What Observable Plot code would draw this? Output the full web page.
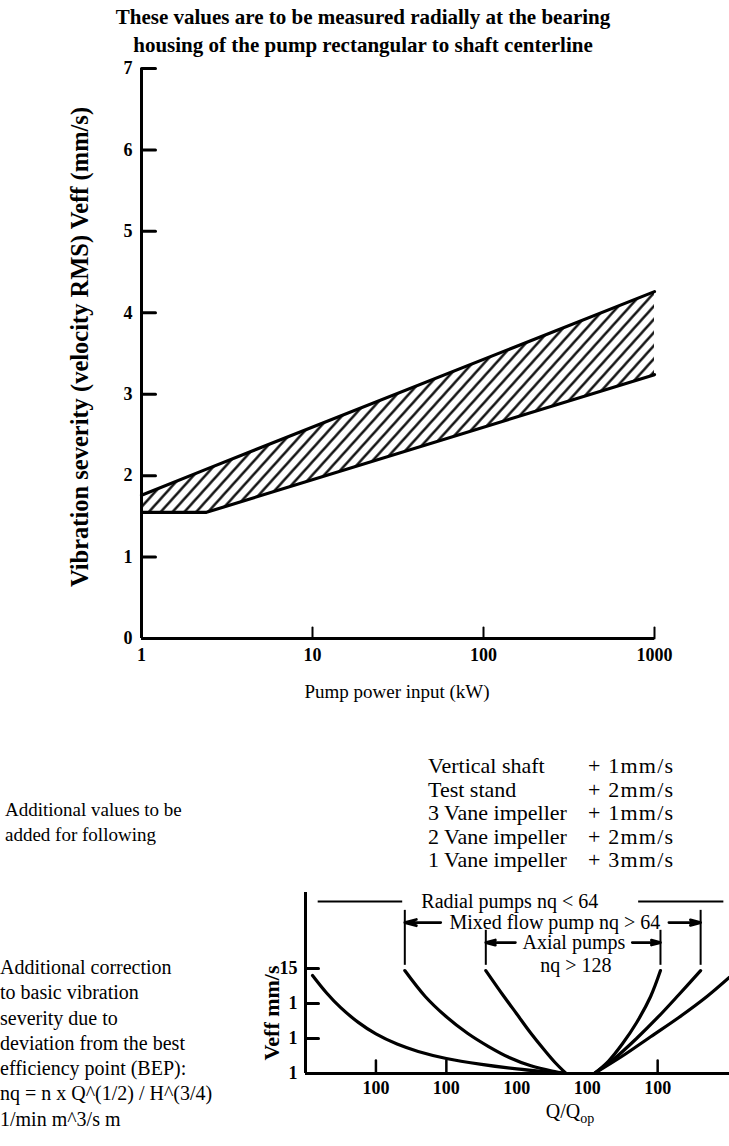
<!DOCTYPE html>
<html><head><meta charset="utf-8">
<script src="https://cdn.jsdelivr.net/npm/d3@7"></script>
<script src="https://cdn.jsdelivr.net/npm/@observablehq/plot@0.6"></script>
<style>
html,body{margin:0;padding:0;background:#fff;}
#root{position:relative;width:729px;height:1146px;overflow:hidden;font-family:"Liberation Serif","Times New Roman",serif;color:#000;background:#fff;}
.t{position:absolute;white-space:nowrap;}
.abs{position:absolute;left:0;}
</style></head><body><div id="root"></div>
<script>
// ---------- data: top chart ----------
const titleLines = ["These values are to be measured radially at the bearing", "housing of the pump rectangular to shaft centerline"];
const yLabelTop = "Vibration severity (velocity RMS) Veff (mm/s)";
const xLabelTop = "Pump power input (kW)";
const yTicksTop = [0, 1, 2, 3, 4, 5, 6, 7];
const yTickLabelsTop = ["0", "1", "2", "3", "4", "5", "6", "7"];
const xTicksTop = [1, 10, 100, 1000];
const xTickLabelsTop = ["1", "10", "100", "1000"];
const xTickMarksTop = [10, 100, 1000];
const bandPower = [1, 2.4, 1000];
const bandUpper = [1.76, 2.08, 4.26];
const bandLower = [1.55, 1.55, 3.24];

// ---------- data: additional values ----------
const addIntro = ["Additional values to be", "added for following"];
const addItems = ["Vertical shaft", "Test stand", "3 Vane impeller", "2 Vane impeller", "1 Vane impeller"];
const addValues = ["+ 1mm/s", "+ 2mm/s", "+ 1mm/s", "+ 2mm/s", "+ 3mm/s"];

// ---------- data: bottom chart ----------
const corrText = ["Additional correction", "to basic vibration", "severity due to", "deviation from the best", "efficiency point (BEP):", "nq = n x Q^(1/2) / H^(3/4)", "1/min m^3/s m"];
const qTicks = [1, 2, 3, 4, 5];
const qTickLabels = ["100", "100", "100", "100", "100"];
const qTickMarks = [1, 2, 5];
const veffTicks = [0, 1, 2, 3];
const veffTickLabels = ["1", "1", "1", "15"];
const veffTickMarks = [1, 2, 3];
const radialLeft  = [[0.1,2.8],[0.3,2.3],[0.5,1.88],[0.75,1.46],[1.0,1.13],[1.3,0.84],[1.6,0.63],[2.0,0.43],[2.5,0.26],[3.0,0.13],[3.4,0.05],[3.7,0]];
const mixedLeft   = [[1.41,2.94],[1.7,2.2],[2.0,1.62],[2.3,1.15],[2.6,0.77],[2.9,0.45],[3.2,0.22],[3.5,0.07],[3.7,0]];
const axialLeft   = [[2.56,2.94],[2.8,2.25],[3.0,1.7],[3.2,1.15],[3.4,0.65],[3.55,0.3],[3.7,0]];
const axialRight  = [[4.1,0],[4.3,0.35],[4.5,0.85],[4.7,1.45],[4.9,2.2],[5.04,2.94]];
const mixedRight  = [[4.1,0],[4.4,0.45],[4.7,1.0],[5.0,1.6],[5.3,2.25],[5.61,2.94]];
const radialRight = [[4.1,0],[4.5,0.5],[4.9,1.05],[5.3,1.6],[5.7,2.2],[6.02,2.75]];
const rangeNames = ["Radial pumps nq < 64", "Mixed flow pump nq > 64", "Axial pumps", "nq > 128"];
const rangeTextX = [2.9, 3.54, 3.81, 3.84];
const rangeTextY = [4.91, 4.31, 3.74, 3.09];
const radialLineX1 = [0.18, 4.73];
const radialLineX2 = [1.38, 5.94];
const radialLineY = 4.91;
const barX = [1.41, 5.61, 2.56, 5.04];
const barTop = [4.66, 4.66, 4.09, 4.09];
const barBottom = 3.09;
const arrowFrom = [1.92, 5.16, 2.98, 4.64];
const arrowTo = [1.41, 5.61, 2.56, 5.04];
const arrowY = [4.31, 4.31, 3.74, 3.74];

// ---------- build ----------
const root = document.getElementById("root");
const tickShape = {draw(ctx, l) { ctx.moveTo(0, 0); ctx.lineTo(0, -l); }};
const serif = "'Liberation Serif','Times New Roman',serif";

const band = bandPower.map((p, i) => ({p, hi: bandUpper[i], lo: bandLower[i]}));

const topPlot = Plot.plot({
  width: 729, height: 720,
  marginTop: 68, marginBottom: 82, marginLeft: 141, marginRight: 75,
  x: {type: "log", domain: [1, 1000]},
  y: {domain: [0, 7]},
  style: {fontFamily: serif, fontSize: "18px", fontWeight: "bold", color: "black", background: "white", overflow: "visible"},
  marks: [
    Plot.areaY(band, {x: "p", y1: "lo", y2: "hi", fill: "url(#hatch)"}),
    Plot.line(band, {x: "p", y: "hi", stroke: "black", strokeWidth: 3.2}),
    Plot.line(band, {x: "p", y: "lo", stroke: "black", strokeWidth: 3.2}),
    Plot.ruleX([1], {stroke: "black", strokeWidth: 3}),
    Plot.ruleY([0], {stroke: "black", strokeWidth: 3}),
    Plot.vector(yTicksTop.filter(d => d > 0), {x: () => 1, y: d => d, length: 14, rotate: 90, anchor: "start", shape: tickShape, stroke: "black", strokeWidth: 3}),
    Plot.vector(xTickMarksTop, {x: d => d, y: () => 0, length: 11, rotate: 0, anchor: "start", shape: tickShape, stroke: "black", strokeWidth: 2}),
    Plot.axisY(yTicksTop, {tickSize: 0, tickPadding: 9, label: null, fontSize: 18, fontWeight: "bold", tickFormat: d => yTickLabelsTop[yTicksTop.indexOf(d)]}),
    Plot.axisX(xTicksTop, {tickSize: 0, tickPadding: 10, label: null, fontSize: 18, fontWeight: "bold", tickFormat: d => xTickLabelsTop[xTicksTop.indexOf(d)]})
  ]
});
d3.select(topPlot).insert("defs", ":first-child").html(
  `<pattern id="hatch" patternUnits="userSpaceOnUse" width="8.8" height="8.8" patternTransform="rotate(42)">
     <rect width="8.8" height="8.8" fill="white"></rect>
     <line x1="4.4" y1="-1" x2="4.4" y2="9.8" stroke="black" stroke-width="2.3"></line>
   </pattern>`);
topPlot.classList.add("abs");
topPlot.style.top = "0px";
root.appendChild(topPlot);

const curveSets = [radialLeft, mixedLeft, axialLeft, axialRight, mixedRight, radialRight];
const curveData = curveSets.flatMap((c, k) => c.map(([x, y]) => ({id: k, x, y})));
const radialLines = radialLineX1.map((x1, i) => ({x1, x2: radialLineX2[i], y: radialLineY}));
const bars = barX.map((x, i) => ({x, y1: barBottom, y2: barTop[i]}));
const arrows = arrowFrom.map((x1, i) => ({x1, x2: arrowTo[i], y: arrowY[i]}));
const rangeLabels = rangeNames.map((t, i) => ({t, x: rangeTextX[i], y: rangeTextY[i]}));

const botPlot = Plot.plot({
  width: 729, height: 266,
  marginTop: 12, marginBottom: 73, marginLeft: 305, marginRight: 0,
  x: {domain: [0, 6.02]},
  y: {domain: [0, 5.17]},
  style: {fontFamily: serif, fontSize: "18px", color: "black", background: "transparent", overflow: "visible"},
  marks: [
    Plot.ruleX([0], {stroke: "black", strokeWidth: 3}),
    Plot.ruleY([0], {stroke: "black", strokeWidth: 3}),
    Plot.vector(veffTickMarks, {x: () => 0, y: d => d, length: 13, rotate: 90, anchor: "start", shape: tickShape, stroke: "black", strokeWidth: 3}),
    Plot.vector(qTickMarks, {x: d => d, y: () => 0, length: 13, rotate: 0, anchor: "start", shape: tickShape, stroke: "black", strokeWidth: 2.5}),
    Plot.line(curveData, {x: "x", y: "y", z: "id", curve: "catmull-rom", stroke: "black", strokeWidth: 3.2, clip: true}),
    Plot.ruleY(radialLines, {x1: "x1", x2: "x2", y: "y", stroke: "black", strokeWidth: 2}),
    Plot.ruleX(bars, {x: "x", y1: "y1", y2: "y2", stroke: "black", strokeWidth: 2}),
    Plot.arrow(arrows, {x1: "x1", x2: "x2", y1: "y", y2: "y", stroke: "black", strokeWidth: 2.8, headLength: 10, headAngle: 30}),
    Plot.text(rangeLabels, {x: "x", y: "y", text: "t", fontSize: 20, fill: "black"}),
    Plot.axisY(veffTicks, {tickSize: 0, tickPadding: 8, label: null, fontSize: 18, fontWeight: "bold", tickFormat: d => veffTickLabels[veffTicks.indexOf(d)]}),
    Plot.axisX(qTicks, {tickSize: 0, tickPadding: 8, label: null, fontSize: 18, fontWeight: "bold", tickFormat: d => qTickLabels[qTicks.indexOf(d)]})
  ]
});
botPlot.classList.add("abs");
botPlot.style.top = "880px";
root.appendChild(botPlot);

// ---------- text ----------
function addText(html, css) {
  const d = document.createElement("div");
  d.className = "t";
  d.innerHTML = html;
  Object.assign(d.style, css);
  root.appendChild(d);
  return d;
}
addText(titleLines.join("<br>"), {left: "363px", top: "3px", transform: "translateX(-50%)", textAlign: "center", fontSize: "21px", fontWeight: "bold", lineHeight: "28px"});
addText(yLabelTop, {left: "80px", top: "347px", transform: "translate(-50%,-50%) rotate(-90deg)", fontSize: "24.5px", fontWeight: "bold", lineHeight: "26px"});
addText(xLabelTop, {left: "397px", top: "680px", transform: "translateX(-50%)", fontSize: "19px", lineHeight: "24px"});
addText(addIntro.join("<br>"), {left: "5px", top: "797px", fontSize: "19px", lineHeight: "25px"});
addText(addItems.join("<br>"), {left: "428px", top: "754px", fontSize: "22px", lineHeight: "23.6px"});
addText(addValues.join("<br>"), {left: "588px", top: "754px", fontSize: "22px", lineHeight: "23.6px", letterSpacing: "1.2px"});
addText(corrText.join("<br>"), {left: "0px", top: "955px", fontSize: "20px", lineHeight: "25.3px"});
addText("Veff mm/s", {left: "272px", top: "1013px", transform: "translate(-50%,-50%) rotate(-90deg)", fontSize: "22px", fontWeight: "bold", lineHeight: "24px"});
addText("Q/Q<sub style='font-size:14px;vertical-align:-5px'>op</sub>", {left: "570px", top: "1099px", transform: "translateX(-50%)", fontSize: "20px", lineHeight: "24px"});
</script></body></html>
